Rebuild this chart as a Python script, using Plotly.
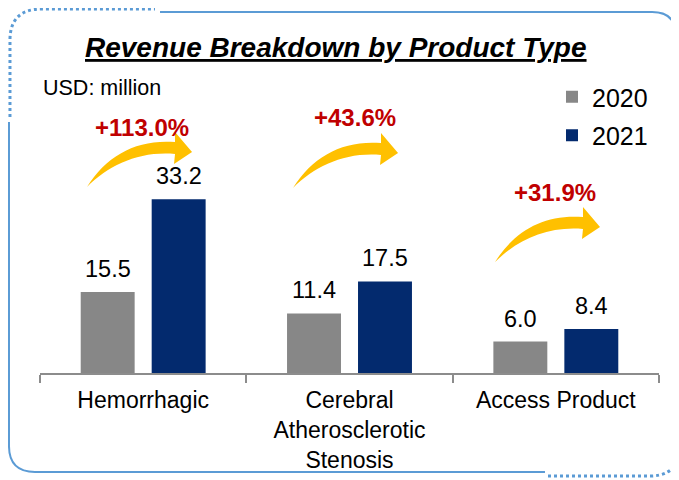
import plotly.graph_objects as go

# data
categories = ["Hemorrhagic", "Cerebral<br>Atherosclerotic<br>Stenosis", "Access Product"]
years = ["2020", "2021"]
revenue_2020 = [15.5, 11.4, 6.0]
revenue_2021 = [33.2, 17.5, 8.4]
growth_labels = ["+113.0%", "+43.6%", "+31.9%"]

GRAY = "#878787"
NAVY = "#032A6E"
GOLD = "#FFC000"
RED = "#C00000"
FRAME = "#5B9BD5"

# the page puts the figure 8px in from the top-left corner
OFF = 8
W, H = 679, 480
# plot area in page pixels
L, R, T, B = 40, 659, 60, 373


def px(x):
    return (x - L) / (R - L)


def py(y):
    return (B - y) / (B - T)


def pt(x, y):
    return f"{px(x):.4f},{py(y):.4f}"


def arrow_path(x0, y0):
    # curved block arrow, tail at (x0, y0), points in page pixels
    p = lambda dx, dy: pt(x0 + dx, y0 + dy)
    return (f"M{p(0, 0)} C{p(20, -32)} {p(50, -48)} {p(88, -45)} "
            f"L{p(88, -55)} L{p(105, -35)} L{p(87, -23)} L{p(88, -33)} "
            f"C{p(52, -36)} {p(22, -22)} {p(0, 0)} Z")


fig = go.Figure()
fig.add_trace(go.Bar(x=categories, y=revenue_2020, name=years[0],
                     marker=dict(color=GRAY, line=dict(width=0)),
                     legendgroup="a"))
fig.add_trace(go.Bar(x=categories, y=revenue_2021, name=years[1],
                     marker=dict(color=NAVY, line=dict(width=0)),
                     legendgroup="b"))

# value labels
annotations = []
for vals, shift in ((revenue_2020, -35.5), (revenue_2021, 35.5)):
    for c, v in zip(categories, vals):
        annotations.append(dict(x=c, y=v, xref="x", yref="y", text=f"{v:.1f}",
                                showarrow=False, xshift=shift, yshift=8,
                                xanchor="center", yanchor="bottom",
                                font=dict(size=23.5, color="black")))

# growth labels and arrows
label_pos = [(142, 127), (355, 118), (555, 192)]
arrow_tails = [(87, 187), (293, 188), (495, 262)]
shapes = []
for g, (lx, ly), (ax, ay) in zip(growth_labels, label_pos, arrow_tails):
    annotations.append(dict(x=px(lx), y=py(ly), xref="paper", yref="paper",
                            text=f"<b>{g}</b>", showarrow=False,
                            xanchor="center", yanchor="middle",
                            font=dict(size=24, color=RED)))
    shapes.append(dict(type="path", xref="paper", yref="paper",
                       path=arrow_path(ax, ay), fillcolor=GOLD,
                       line=dict(width=0)))

# title and unit
annotations.append(dict(x=px(336), y=py(47), xref="paper", yref="paper",
                        text="<b><i><u>Revenue Breakdown by Product Type</u></i></b>",
                        showarrow=False, xanchor="center", yanchor="middle",
                        font=dict(size=28, color="black")))
annotations.append(dict(x=px(41), y=py(88), xref="paper", yref="paper",
                        text="USD: million", showarrow=False,
                        xanchor="left", yanchor="middle",
                        font=dict(size=21.5, color="black")))

# frame
shapes.append(dict(type="path", xref="paper", yref="paper",
                   path=(f"M{pt(160, 12)} L{pt(652, 12)} Q{pt(676, 12)} {pt(676, 36)} "
                         f"L{pt(676, 445)}"),
                   line=dict(color=FRAME, width=2)))
shapes.append(dict(type="path", xref="paper", yref="paper",
                   path=(f"M{pt(9, 122)} L{pt(9, 446)} Q{pt(9, 472)} {pt(35, 472)} "
                         f"L{pt(545, 472)}"),
                   line=dict(color=FRAME, width=2)))
shapes.append(dict(type="path", xref="paper", yref="paper",
                   path=(f"M{pt(10, 117)} L{pt(10, 40)} Q{pt(10, 9)} {pt(42, 9)} "
                         f"L{pt(155, 9)}"),
                   line=dict(color=FRAME, width=3, dash="dot")))
shapes.append(dict(type="path", xref="paper", yref="paper",
                   path=(f"M{pt(548, 476)} L{pt(650, 476)} Q{pt(670, 476)} {pt(678, 461)}"),
                   line=dict(color=FRAME, width=3, dash="dot")))

fig.update_layout(
    width=W, height=H,
    margin=dict(l=L - OFF, r=W - (R - OFF), t=T - OFF, b=H - (B - OFF)),
    paper_bgcolor="white", plot_bgcolor="white",
    font=dict(family="Arial, Liberation Sans, sans-serif", color="black"),
    barmode="group", bargap=0.312, bargroupgap=0.24,
    showlegend=True,
    legend=dict(x=px(552), y=py(74), xanchor="left", yanchor="top",
                font=dict(size=25), traceorder="grouped", tracegroupgap=3,
                bgcolor="rgba(0,0,0,0)", itemwidth=30),
    annotations=annotations,
    shapes=shapes,
)
fig.update_xaxes(showline=True, linecolor="#8C8C8C", linewidth=1.5,
                 ticks="outside", tickson="boundaries", ticklen=8,
                 tickcolor="#8C8C8C", tickwidth=1.5,
                 tickfont=dict(size=23), ticklabelstandoff=6,
                 showgrid=False)
fig.update_yaxes(visible=False, range=[0, 59.85])

fig.write_html("out.html")
